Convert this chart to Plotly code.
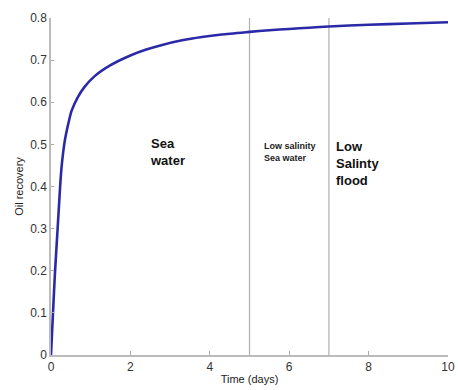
import plotly.graph_objects as go

time_days = [0, 0.05, 0.1, 0.17, 0.23, 0.27, 0.35, 0.45, 0.52, 0.68, 0.85, 1.1, 1.5, 2.0, 2.4, 2.8, 3.3, 3.8, 4.3, 5.0, 5.5, 6.0, 6.5, 7.0, 8.0, 9.0, 10.0]
oil_recovery = [0, 0.10, 0.195, 0.305, 0.40, 0.45, 0.51, 0.555, 0.580, 0.613, 0.637, 0.662, 0.688, 0.711, 0.725, 0.736, 0.747, 0.755, 0.761, 0.767, 0.771, 0.774, 0.777, 0.780, 0.784, 0.787, 0.790]

switch_times = [5, 7]
x_ticks = [0, 2, 4, 6, 8, 10]
y_ticks = [0, 0.1, 0.2, 0.3, 0.4, 0.5, 0.6, 0.7, 0.8]
y_tick_text = ["0", "0.1", "0.2", "0.3", "0.4", "0.5", "0.6", "0.7", "0.8"]

fig = go.Figure()
for t in switch_times:
    fig.add_trace(go.Scatter(x=[t, t], y=[0, 0.8], mode="lines",
                             line=dict(color="#b0b0b0", width=1.2),
                             showlegend=False, hoverinfo="skip"))
fig.add_trace(go.Scatter(x=time_days, y=oil_recovery, mode="lines",
                         line=dict(color="#2a2aa8", width=2.6, shape="spline", smoothing=0.6),
                         showlegend=False))

font_fam = "Liberation Sans, Arial, sans-serif"
fig.add_annotation(x=2.44, y=0.483, xref="x", yref="y", text="<b>Sea<br>water</b>",
                   showarrow=False, xanchor="left", yanchor="middle", align="left",
                   font=dict(family=font_fam, size=13, color="#111"))
fig.add_annotation(x=5.31, y=0.483, xref="x", yref="y", text="<b>Low salinity<br>Sea water</b>",
                   showarrow=False, xanchor="left", yanchor="middle", align="left",
                   font=dict(family=font_fam, size=9, color="#222"))
fig.add_annotation(x=7.13, y=0.455, xref="x", yref="y", text="<b>Low<br>Salinty<br>flood</b>",
                   showarrow=False, xanchor="left", yanchor="middle", align="left",
                   font=dict(family=font_fam, size=13, color="#111"))

fig.update_layout(
    width=458, height=390,
    margin=dict(l=51, r=10, t=18, b=35),
    paper_bgcolor="white", plot_bgcolor="white",
    font=dict(family=font_fam, size=12, color="#333"),
)
fig.update_xaxes(range=[0, 10], tickvals=x_ticks, ticks="inside", ticklen=4,
                 tickcolor="#aaa", showline=True, linecolor="#bbb", linewidth=1.5,
                 showgrid=False, zeroline=False, automargin=False,
                 title=dict(text="Time (days)", font=dict(size=11, color="#222"), standoff=2),
                 tickfont=dict(size=12, color="#333"))
fig.update_yaxes(range=[0, 0.8], tickvals=y_ticks, ticktext=y_tick_text, ticks="inside", ticklen=3,
                 tickcolor="#aaa", showline=True, linecolor="#bbb", linewidth=1.5,
                 showgrid=False, zeroline=False, automargin=False,
                 title=dict(text="Oil recovery", font=dict(size=11, color="#222"), standoff=4),
                 tickfont=dict(size=12, color="#333"))

fig.write_html("out.html")
